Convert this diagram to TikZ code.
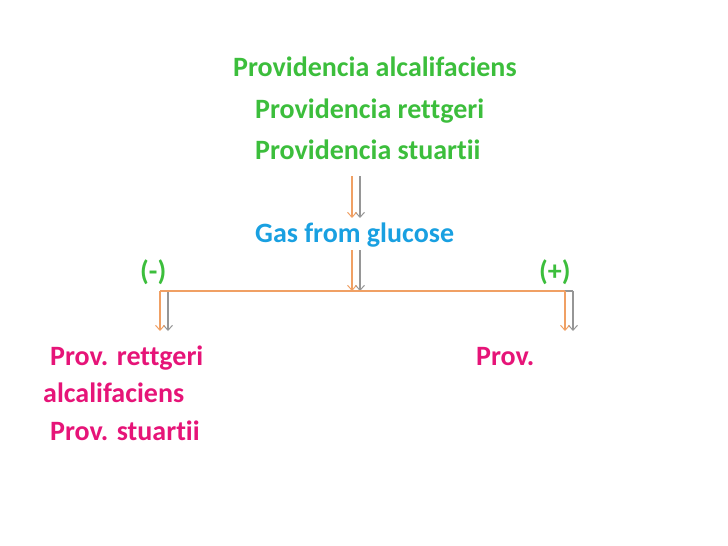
\documentclass[tikz,border=0pt]{standalone}
\usepackage{fontspec}
\setmainfont[Ligatures=NoCommon]{Carlito}
\usetikzlibrary{arrows.meta}
\definecolor{tgreen}{RGB}{60,190,60}
\definecolor{tblue}{RGB}{25,160,225}
\definecolor{tmag}{RGB}{230,20,120}
\definecolor{torange}{RGB}{240,160,100}
\definecolor{tgray}{RGB}{150,150,150}
\begin{document}
\begin{tikzpicture}[x=1pt,y=-1pt,
  lbl/.style={anchor=base west,inner sep=0pt,font=\fontsize{28}{32}\selectfont\bfseries},
  grn/.style={lbl,text=tgreen},
  blu/.style={lbl,text=tblue},
  mag/.style={lbl,text=tmag},
  oarrow/.style={draw=torange,line width=1.3pt,-{Straight Barb[length=5pt,width=9pt,line width=1pt]}},
  garrow/.style={draw=tgray,line width=2.6pt,-{Straight Barb[length=5pt,width=9pt,line width=1pt]}},
  oline/.style={draw=torange,line width=2pt},
  gline/.style={draw=tgray,line width=2.6pt}]
\useasboundingbox (0,0) rectangle (728,546);
% texts
\node[grn] (pa) at (233,76) {Providencia alcalifaciens};
\node[grn] (pr) at (255,118) {Providencia rettgeri};
\node[grn] (ps) at (255,159) {Providencia stuartii};
\node[blu] (gas) at (255,242) {Gas from glucose};
\node[grn] (neg) at (140,280) {(-)};
\node[grn] (pos) at (539,280) {(+)};
\node[mag] (r1) at (50,365) {Prov. rettgeri};
\node[mag] (r2) at (476,365) {Prov.};
\node[mag] (r3) at (43,402) {alcalifaciens};
\node[mag] (r4) at (50,440) {Prov. stuartii};
% coordinates
\coordinate (t1) at (352,176);
\coordinate (b1) at (352,218);
\coordinate (t2) at (352,250);
\coordinate (hc) at (352,291);
\coordinate (hl) at (160,291);
\coordinate (hr) at (565,291);
\coordinate (bl) at (160,331);
\coordinate (br) at (565,331);
% shadows (gray)
\draw[gline] ([xshift=8pt]hl) -- ([xshift=8pt]hr);
\draw[garrow] ([xshift=8pt]t1) -- ([xshift=8pt]b1);
\draw[garrow] ([xshift=8pt]t2) -- ([xshift=8pt]hc);
\draw[garrow] ([xshift=8pt]hl) -- ([xshift=8pt]bl);
\draw[garrow] ([xshift=8pt]hr) -- ([xshift=8pt]br);
% orange
\draw[oline] (hl) -- (hr);
\draw[oarrow] (t1) -- (b1);
\draw[oarrow] (t2) -- (hc);
\draw[oarrow] (hl) -- (bl);
\draw[oarrow] (hr) -- (br);
\end{tikzpicture}
\end{document}
